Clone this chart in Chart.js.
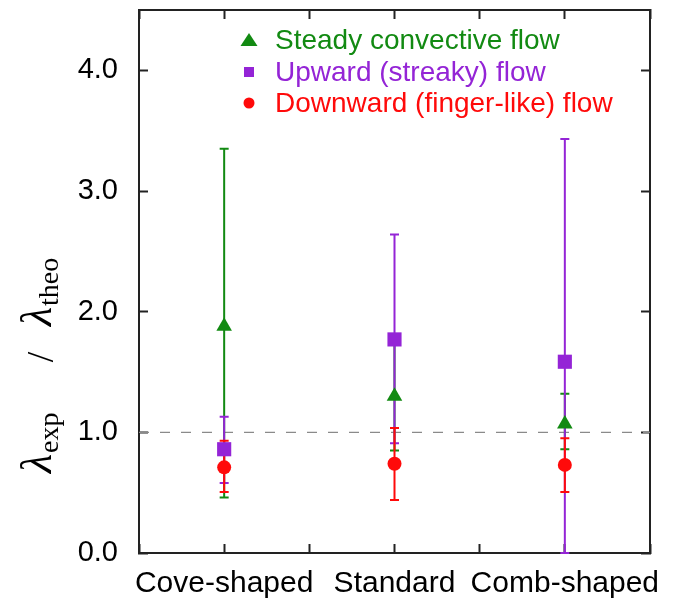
<!DOCTYPE html>
<html>
<head>
<meta charset="utf-8">
<script src="https://cdn.jsdelivr.net/npm/chart.js@4.4.1/dist/chart.umd.min.js"></script>
<style>
  body { margin: 0; background: #fff; }
  #wrap { width: 682px; height: 607px; }
</style>
</head>
<body>
<div id="wrap"><canvas id="myChart"></canvas></div>
<script>
// categories sit at x = 1, 3, 5 on a 0..6 axis
var categories = ["Cove-shaped", "Standard", "Comb-shaped"];
var catPos = [1, 3, 5];
var yTicks = [0, 1, 2, 3, 4];

var steady = [1.88, 1.30, 1.07];
var steadyLow = [0.46, 0.85, 0.86];
var steadyHigh = [3.35, 1.79, 1.32];

var upward = [0.86, 1.77, 1.585];
var upwardLow = [0.58, 0.91, 0.0];
var upwardHigh = [1.13, 2.64, 3.43];

var downward = [0.71, 0.74, 0.73];
var downwardLow = [0.505, 0.44, 0.505];
var downwardHigh = [0.93, 1.035, 0.95];

var refLevel = 1.0;

var GREEN = "#128a12";
var PURPLE = "#9424d6";
var RED = "#ff0a0a";

var series = [
  { label: "Steady convective flow", color: GREEN, mean: steady, low: steadyLow, high: steadyHigh, style: "triangle", radius: 9 },
  { label: "Upward (streaky) flow", color: PURPLE, mean: upward, low: upwardLow, high: upwardHigh, style: "rect", radius: 10 },
  { label: "Downward (finger-like) flow", color: RED, mean: downward, low: downwardLow, high: downwardHigh, style: "circle", radius: 7 }
];

function pts(vals) {
  return vals.map(function (v, i) { return { x: catPos[i], y: v }; });
}

var datasets = series.map(function (s, i) {
  return {
    type: "scatter",
    label: s.label,
    data: pts(s.mean),
    pointStyle: s.style,
    pointRadius: s.radius,
    pointHoverRadius: s.radius,
    backgroundColor: s.color,
    borderColor: s.color,
    borderWidth: 0,
    order: i
  };
});
datasets.push({
  type: "line",
  label: "ref",
  data: [{ x: 0, y: refLevel }, { x: 6, y: refLevel }],
  borderColor: "#8a8a8a",
  borderWidth: 1.3,
  borderDash: [10, 11],
  pointRadius: 0,
  order: 99
});

// error bars go right after the dashed line, under the markers
var errorBars = {
  id: "errorBars",
  afterDatasetDraw: function (chart, args) {
    if (args.meta.type !== "line") return;
    var ctx = chart.ctx, x = chart.scales.x, y = chart.scales.y;
    series.forEach(function (s) {
      ctx.save();
      ctx.strokeStyle = s.color;
      ctx.lineWidth = 2;
      catPos.forEach(function (p, i) {
        var px = x.getPixelForValue(p);
        var lo = y.getPixelForValue(s.low[i]);
        var hi = y.getPixelForValue(s.high[i]);
        ctx.beginPath();
        ctx.moveTo(px, lo); ctx.lineTo(px, hi);
        ctx.moveTo(px - 4.5, lo); ctx.lineTo(px + 4.5, lo);
        ctx.moveTo(px - 4.5, hi); ctx.lineTo(px + 4.5, hi);
        ctx.stroke();
      });
      ctx.restore();
    });
  }
};

// legend inside the plot + the y title with subscripts
var extras = {
  id: "extras",
  afterDraw: function (chart) {
    var ctx = chart.ctx;
    ctx.save();
    var lx = 249, tx = 275, rows = [40, 72, 103];
    series.forEach(function (s, i) {
      var cy = rows[i];
      ctx.fillStyle = s.color;
      ctx.beginPath();
      if (s.style === "triangle") {
        ctx.moveTo(lx, cy - 7); ctx.lineTo(lx + 8.5, cy + 6); ctx.lineTo(lx - 8.5, cy + 6);
        ctx.closePath();
      } else if (s.style === "rect") {
        ctx.rect(lx - 5, cy - 5, 10, 10);
      } else {
        ctx.arc(lx, cy, 5.5, 0, Math.PI * 2);
      }
      ctx.fill();
      ctx.font = "28px 'Liberation Sans', Arial, sans-serif";
      ctx.textBaseline = "middle";
      ctx.textAlign = "left";
      ctx.fillText(s.label, tx, cy + 1);
    });

    // rotated title, read bottom to top
    var big = "italic 44px 'Liberation Serif', 'Times New Roman', serif";
    var sub = "28px 'Liberation Serif', 'Times New Roman', serif";
    ctx.translate(51, 473);
    ctx.rotate(-Math.PI / 2);
    ctx.fillStyle = "#000";
    ctx.textBaseline = "alphabetic";
    ctx.textAlign = "left";
    var cx = 0;
    ctx.font = big; ctx.fillText("\u03BB", cx, 0); cx += ctx.measureText("\u03BB").width + 1;
    ctx.font = sub; ctx.fillText("exp", cx, 7);
    ctx.font = "38px 'Liberation Serif', 'Times New Roman', serif";
    ctx.textAlign = "center";
    ctx.fillText("/", 116, 2);
    ctx.textAlign = "left";
    cx = 147;
    ctx.font = big; ctx.fillText("\u03BB", cx, 0); cx += ctx.measureText("\u03BB").width + 1;
    ctx.font = sub; ctx.fillText("theo", cx, 7);
    ctx.restore();
  }
};

var axisColor = "#222";
function noPad(s) { s.paddingTop = 0; s.paddingBottom = 0; s.paddingLeft = 0; s.paddingRight = 0; }

var myChart = document.getElementById("myChart").getContext("2d");
var chart = new Chart(myChart, {
  type: "scatter",
  data: { datasets: datasets },
  plugins: [errorBars, extras],
  options: {
    responsive: true,
    maintainAspectRatio: false,
    animation: false,
    layout: { padding: { left: 0, right: 32, top: 10, bottom: 0 } },
    plugins: {
      legend: { display: false },
      tooltip: { enabled: false }
    },
    scales: {
      x: {
        type: "linear",
        position: "bottom",
        min: 0,
        max: 6,
        z: 1,
        ticks: {
          stepSize: 1,
          autoSkip: false,
          maxRotation: 0,
          padding: 22,
          color: "#000",
          font: { family: "'Liberation Sans', Arial, sans-serif", size: 30 },
          callback: function (v) {
            var k = catPos.indexOf(v);
            return k >= 0 ? categories[k] : "";
          }
        },
        grid: { drawOnChartArea: false, drawTicks: true, tickLength: -9, tickWidth: 2, tickColor: axisColor },
        border: { display: true, color: axisColor, width: 2 },
        afterFit: function (s) { s.height = 54; noPad(s); }
      },
      x2: {
        type: "linear",
        position: "top",
        min: 0,
        max: 6,
        ticks: { stepSize: 1, display: false },
        grid: { drawOnChartArea: false, drawTicks: true, tickLength: -9, tickWidth: 2, tickColor: axisColor },
        border: { display: true, color: axisColor, width: 2 },
        afterFit: function (s) { s.height = 0; noPad(s); }
      },
      y: {
        type: "linear",
        position: "left",
        min: 0,
        max: 4.5,
        afterBuildTicks: function (s) { s.ticks = yTicks.map(function (v) { return { value: v }; }); },
        ticks: {
          padding: 30,
          color: "#000",
          font: { family: "'Liberation Sans', Arial, sans-serif", size: 29 },
          callback: function (v) { return Number(v).toFixed(1); }
        },
        grid: { drawOnChartArea: false, drawTicks: true, tickLength: -9, tickWidth: 2, tickColor: axisColor },
        border: { display: true, color: axisColor, width: 2 },
        afterFit: function (s) { s.width = 139; noPad(s); }
      },
      y2: {
        type: "linear",
        position: "right",
        min: 0,
        max: 4.5,
        afterBuildTicks: function (s) { s.ticks = yTicks.map(function (v) { return { value: v }; }); },
        ticks: { display: false },
        grid: { drawOnChartArea: false, drawTicks: true, tickLength: -9, tickWidth: 2, tickColor: axisColor },
        border: { display: true, color: axisColor, width: 2 },
        afterFit: function (s) { s.width = 0; noPad(s); }
      }
    }
  }
});
</script>
</body>
</html>
